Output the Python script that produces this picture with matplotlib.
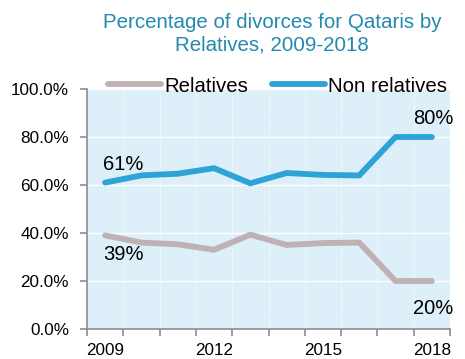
import numpy as np
import matplotlib
matplotlib.use('Agg')
import matplotlib.pyplot as plt
from matplotlib.ticker import FixedLocator, FuncFormatter

plt.rcParams['font.family'] = ['Liberation Sans', 'DejaVu Sans']

years = ['2009', '2010', '2011', '2012', '2013', '2014', '2015', '2016', '2017', '2018']
relatives = [39, 36, 35.3, 33, 39.3, 35, 35.8, 36, 20, 20]
non_relatives = [61, 64, 64.7, 67, 60.7, 65, 64.2, 64, 80, 80]
shown_years = ['2009', '2012', '2015', '2018']
y_ticks = [0, 20, 40, 60, 80, 100]

grey = '#BFB1B4'
blue = '#2EA3D6'
spine = '#8C8C8C'

fig = plt.figure(figsize=(4.65, 3.59), dpi=100)
ax = fig.add_axes([87 / 465, 1 - 329 / 359, 363 / 465, 240 / 359])
ax.set_facecolor('#DDEFF9')

x = np.arange(len(years))
ax.plot(x, relatives, color=grey, lw=4.2, solid_capstyle='round', solid_joinstyle='miter', label='Relatives')
ax.plot(x, non_relatives, color=blue, lw=4.2, solid_capstyle='round', solid_joinstyle='miter', label='Non relatives')

ax.set_xlim(-0.5, len(years) - 0.5)
ax.set_ylim(0, 100)

# category boundaries carry the tick marks, year labels sit in the middle
ax.xaxis.set_major_locator(FixedLocator(np.arange(-0.5, len(years), 1.0)))
ax.xaxis.set_major_formatter(FuncFormatter(lambda v, p: ''))
ax.xaxis.set_minor_locator(FixedLocator([years.index(y) for y in shown_years]))
ax.xaxis.set_minor_formatter(FuncFormatter(lambda v, p: years[int(round(v))]))
ax.tick_params(axis='x', which='major', length=5, width=1.2, color=spine, direction='out')
ax.tick_params(axis='x', which='minor', length=0, pad=10, labelsize=12.3)

ax.set_yticks(y_ticks)
ax.yaxis.set_major_formatter(FuncFormatter(lambda v, p: f'{v:.1f}%'))
ax.tick_params(axis='y', length=5, width=1.2, color=spine, direction='out', pad=8, labelsize=12.3)

ax.grid(axis='y', color='white', lw=1.0)
ax.grid(axis='x', which='major', color='white', lw=0.6, alpha=0.8, ls=(0, (3, 2)))
ax.set_axisbelow(True)

for s in ['top', 'right']:
    ax.spines[s].set_visible(False)
for s in ['left', 'bottom']:
    ax.spines[s].set_color(spine)
    ax.spines[s].set_linewidth(1.2)

# value labels at first and last year
lab = dict(fontsize=14.5, color='black', ha='center', va='center', textcoords='offset pixels')
ax.annotate(f'{non_relatives[0]:.0f}%', (x[0], non_relatives[0]), xytext=(18, 18), **lab)
ax.annotate(f'{relatives[0]:.0f}%', (x[0], relatives[0]), xytext=(18, -19), **lab)
ax.annotate(f'{non_relatives[-1]:.0f}%', (x[-1], non_relatives[-1]), xytext=(1, 18), **lab)
ax.annotate(f'{relatives[-1]:.0f}%', (x[-1], relatives[-1]), xytext=(1, -28), **lab)

ax.legend(loc='center left', bbox_to_anchor=(108 / 465, 1 - 86 / 359), bbox_transform=fig.transFigure,
          ncol=2, frameon=False, fontsize=14.7, handlelength=2.6, handletextpad=0.15,
          columnspacing=1.15, borderpad=0, borderaxespad=0)

fig.text(272 / 465, 1 - 34 / 359, 'Percentage of divorces for Qataris by\nRelatives, 2009-2018',
         ha='center', va='center', fontsize=14.8, color='#2389AE', linespacing=1.2)

fig.savefig('out.png', dpi=100)
